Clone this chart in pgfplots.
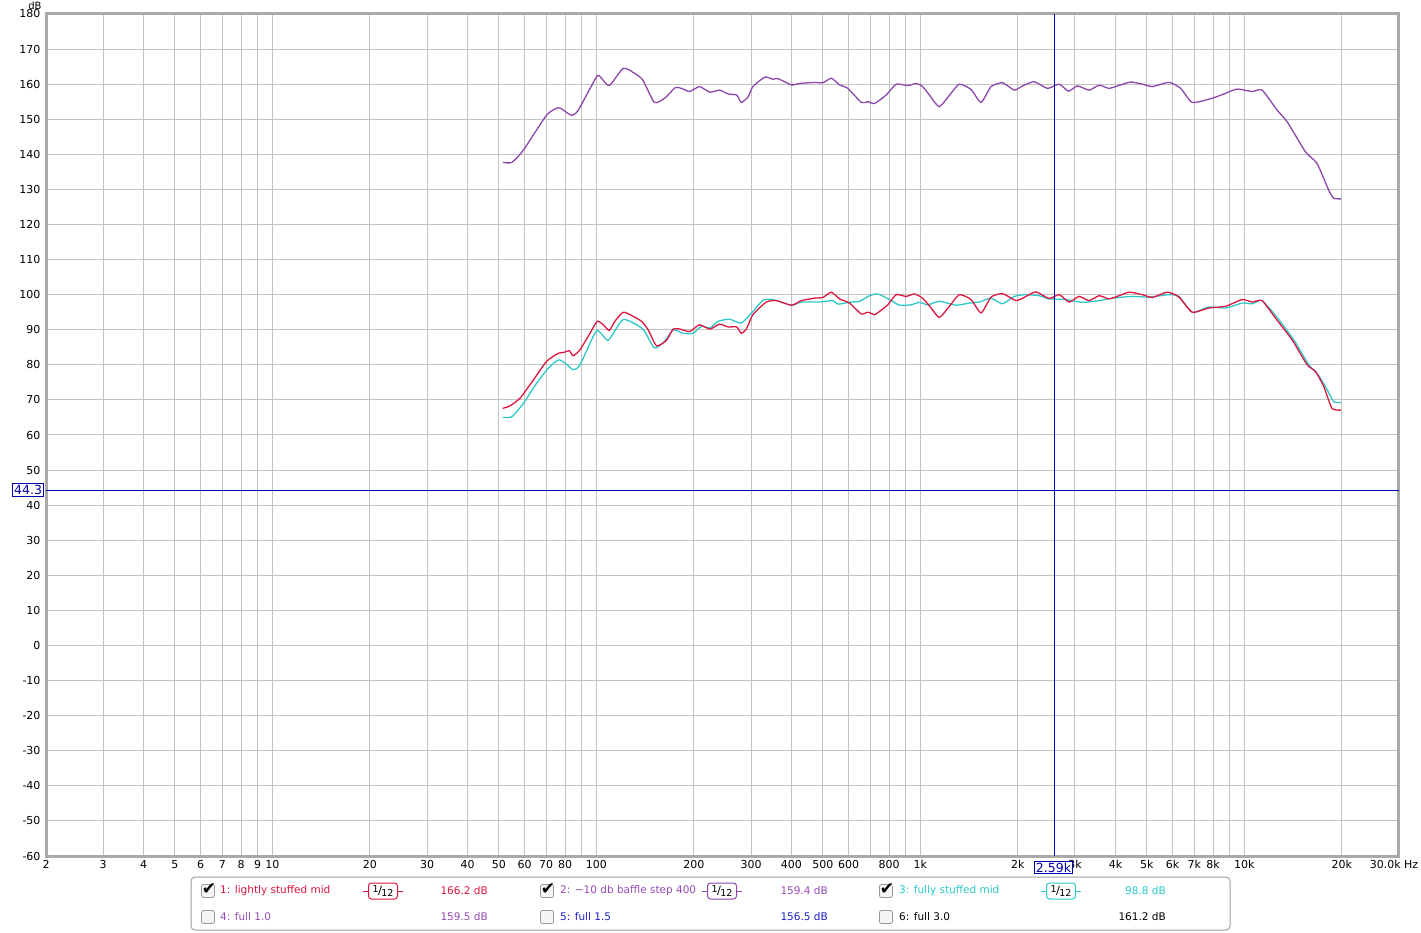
\documentclass[border=0pt]{standalone}
\usepackage{fontspec}
\setmainfont{DejaVu Sans}
\usepackage{pgfplots}
\pgfplotsset{compat=1.18}
\definecolor{cred}{RGB}{220,22,62}
\definecolor{cpurple}{RGB}{140,70,172}
\definecolor{ccyan}{RGB}{45,200,200}
\definecolor{cursorblue}{RGB}{0,0,175}
\definecolor{lblue}{RGB}{30,30,200}
\definecolor{lpurple}{RGB}{150,75,182}
\definecolor{gridgray}{RGB}{195,195,195}
\definecolor{framegray}{RGB}{170,170,170}
\newcommand{\badge}{\raisebox{2pt}{\fontsize{9.5}{9.5}\selectfont 1}\kern-0.5pt{\fontsize{11.5}{11.5}\selectfont/}\kern-0.5pt\raisebox{-2pt}{\fontsize{9.5}{9.5}\selectfont 12}}
\begin{document}
\begin{tikzpicture}
\path[use as bounding box] (-46pt,-76pt) rectangle (1375pt,856pt);
\begin{axis}[
  at={(0pt,0pt)}, anchor=south west,
  width=1353pt, height=842pt, scale only axis,
  xmode=log, xmin=2, xmax=30000, ymin=-60, ymax=180,
  clip=false,
  ytick={-60,-50,...,180},
  xtick={2,3,4,5,6,7,8,9,10,20,30,40,50,60,70,80,90,100,200,300,400,500,600,700,800,900,1000,2000,3000,4000,5000,6000,7000,8000,9000,10000,20000,30000},
  xticklabels={2,3,4,5,6,7,8,9,10,20,30,40,50,60,70,80,,100,200,300,400,500,600,,800,,1k,2k,3k,4k,5k,6k,7k,8k,,10k,20k,\kern-10pt 30.0k Hz},
  grid=major,
  major grid style={draw=gridgray, line width=1pt},
  major tick length=0pt,
  axis line style={draw=framegray, line width=3pt},
  /pgf/number format/assume math mode=true,
  ticklabel style={font=\fontsize{11}{13}\selectfont},
  yticklabel style={xshift=-2pt},
  xticklabel style={yshift=-1pt},
  every axis plot/.append style={line width=1.3pt, smooth, tension=0.35},
]
% purple: -10 db baffle step 400
\addplot[cpurple] coordinates {
(51.4,137.7)(54.8,137.7)(59.5,141.2)(70.2,151.2)(76.3,153.3)(79.0,152.6)(83.9,151.1)(87.9,152.6)
(100.1,162.1)(103,162.0)(109.5,159.6)(121,164.5)(131,163.1)(139,161.2)(151,154.8)(163,156.1)
(175,159.0)(183,158.8)(194,157.9)(208,159.3)(224,157.7)(240,158.3)(255,157.2)(271,156.9)
(280,154.8)(294,156.4)(304,159.3)(331,162.0)(351,161.4)(363,161.6)(400,159.8)(424,160.2)
(471,160.5)(500,160.4)(531,161.7)(563,159.8)(597,158.8)(657,154.8)(688,155.0)(722,154.5)
(784,156.9)(842,160.0)(914,159.6)(970,160.2)(1016,159.3)(1066,156.9)(1144,153.6)(1243,157.4)
(1319,160.0)(1433,158.5)(1539,154.8)(1652,159.3)(1793,160.4)(1949,158.3)(2067,159.5)(2245,160.7)
(2468,158.8)(2682,160.0)(2864,158.0)(3052,159.5)(3317,158.3)(3561,159.7)(3823,158.8)(4155,159.8)
(4461,160.6)(4843,160.0)(5199,159.3)(5852,160.5)(6360,158.8)(6904,154.8)(7958,156.0)(8752,157.4)
(9502,158.6)(10570,157.9)(11340,158.3)(12620,152.6)(13550,149.3)(15440,140.7)(16760,137.4)
(18210,129.8)(18870,127.5)(19870,127.3)
};
% cyan: fully stuffed mid
\addplot[ccyan] coordinates {
(51.4,65.0)(54.8,65.2)(59.5,69.0)(65.4,74.8)(71.0,79.0)(76.3,81.4)(80.0,80.5)(84.8,78.6)(89.0,80.0)
(100.1,89.7)(108.7,87.0)(121,92.9)(139,90.2)(151,84.8)(163,86.9)(172.5,90.0)(185.1,89.0)(198.7,89.0)
(211,91.0)(224,90.5)(237.3,92.4)(257.8,93.0)(280,91.9)(304,95.2)(326.6,98.4)(351,98.6)(400,97.0)
(428.9,97.9)(488.4,97.9)(536.9,98.3)(556.3,97.3)(611.5,97.9)(648.6,98.1)(696.3,99.7)(738.6,100.2)
(802.7,98.6)(861.6,97.0)(936.1,97.1)(993,97.8)(1053,97.1)(1144,98.1)(1288,97.0)(1416,97.6)
(1520,97.9)(1652,99.0)(1793,97.4)(1949,99.5)(2117,100.0)(2326,99.7)(2497,98.8)(2812,98.6)
(3164,97.8)(3561,98.3)(3913,99.0)(4511,99.5)(5079,99.3)(5852,100.0)(6284,99.5)(6904,95.0)
(7773,96.5)(8752,96.2)(9845,97.6)(10570,97.4)(11340,98.3)(12770,92.9)(14210,87.1)(15810,80.0)
(16760,77.6)(17790,73.8)(18870,69.5)(19870,69.3)
};
% red: lightly stuffed mid
\addplot[cred] coordinates {
(51.4,67.6)(54.1,68.3)(58.1,70.5)(63.9,75.7)(70.2,81.0)(76.3,83.3)(79.0,83.5)(82.5,84.0)(84.8,82.6)
(89.0,84.3)(95.5,89.0)(100.6,92.4)(105,91.4)(109.5,89.8)(114,92.4)(121,95.0)(129.9,93.8)(137.8,92.4)
(144.4,90.0)(153.3,85.4)(164.6,87.0)(172.5,90.2)(180.8,90.2)(194,89.5)(208,91.4)(224,90.2)(240,91.6)
(255,90.8)(271,90.8)(280,89.0)(290.3,90.2)(304,94.3)(334.6,97.9)(359.3,98.3)(400,97.0)(428.9,98.3)
(471,99.0)(500,99.2)(531,100.7)(563,98.8)(604.2,97.6)(657,94.5)(688,95.0)(722,94.3)(747.5,95.2)
(793,97.1)(842,100.0)(903.6,99.5)(958.3,100.2)(1016,99.0)(1079,96.2)(1144,93.5)(1229,96.7)
(1319,100.0)(1433,98.6)(1539,94.8)(1652,99.3)(1793,100.3)(1972,98.3)(2117,99.5)(2273,100.8)
(2497,98.9)(2682,100.0)(2879,97.9)(3090,99.5)(3317,98.3)(3561,99.7)(3823,98.8)(4104,99.7)
(4407,100.7)(4843,100.0)(5199,99.2)(5782,100.7)(6284,99.3)(6904,95.0)(7773,96.2)(8752,96.7)
(9845,98.6)(10570,97.9)(11340,98.3)(12480,93.3)(14040,87.1)(15620,80.0)(16580,78.1)(17580,73.8)
(18640,67.6)(19870,67.1)
};
% cursors
\draw[cursorblue, line width=1pt] (axis cs:2590,-60) -- (axis cs:2590,180);
\draw[cursorblue, line width=1pt] (axis cs:2,44.3) -- (axis cs:30000,44.3);
\end{axis}
% cursor labels
\node[draw=cursorblue, fill=white, text=cursorblue, line width=1pt, inner sep=1.5pt, anchor=east, font=\fontsize{12.5}{14}\selectfont] at (-2pt,365.9pt) {44.3};
\node[draw=cursorblue, fill=white, text=cursorblue, line width=1pt, inner sep=1.5pt, font=\fontsize{12.5}{14}\selectfont] at (1007.5pt,-11.5pt) {2.59k};
% dB unit
\node[font=\fontsize{10}{12}\selectfont] at (-11pt,850pt) {dB};
% legend box
\draw[draw=gray!75, line width=1pt, rounded corners=4pt, fill=white] (145pt,-21pt) rectangle (1184pt,-74pt);
\tikzset{chk/.style={draw=gray!80, fill=gray!8, rounded corners=2pt, line width=0.8pt, minimum size=13pt, inner sep=0pt},
  ltxt/.style={anchor=west, font=\fontsize{10.5}{12}\selectfont, inner sep=0pt},
  vtxt/.style={anchor=east, font=\fontsize{10.5}{12}\selectfont, inner sep=0pt},
  bdg/.style={draw=#1, rounded corners=3pt, line width=1pt, fill=white, minimum width=29pt, minimum height=16pt, inner sep=0pt, font=\fontsize{10}{12}\selectfont}}
\foreach \cx in {162,501,840} {
  \node[chk] at (\cx pt,-35pt) {};
  \node[chk] at (\cx pt,-61pt) {};
  \node[font=\fontsize{17}{17}\selectfont, inner sep=0pt] at (\cx pt+1pt,-33pt) {✔};
}
\node[ltxt, text=cred] at (174pt,-35pt) {1: lightly stuffed mid};
\node[ltxt, text=lpurple] at (514pt,-35pt) {2: −10 db baffle step 400};
\node[ltxt, text=ccyan] at (853pt,-35pt) {3: fully stuffed mid};
\node[ltxt, text=lpurple] at (174pt,-61pt) {4: full 1.0};
\node[ltxt, text=lblue] at (514pt,-61pt) {5: full 1.5};
\node[ltxt, text=black] at (853pt,-61pt) {6: full 3.0};
\node[vtxt, text=cred] at (442pt,-35pt) {166.2 dB};
\node[vtxt, text=lpurple] at (782pt,-35pt) {159.4 dB};
\node[vtxt, text=ccyan] at (1120pt,-35pt) {98.8 dB};
\node[vtxt, text=lpurple] at (442pt,-61pt) {159.5 dB};
\node[vtxt, text=lblue] at (782pt,-61pt) {156.5 dB};
\node[vtxt, text=black] at (1120pt,-61pt) {161.2 dB};
% smoothing badges
\draw[cred, line width=1pt] (317pt,-35pt) -- (357pt,-35pt);
\node[bdg=cred] at (337pt,-35pt) {\badge};
\draw[cpurple, line width=1pt] (656pt,-35pt) -- (696pt,-35pt);
\node[bdg=cpurple] at (676pt,-35pt) {\badge};
\draw[ccyan, line width=1pt] (995pt,-35pt) -- (1035pt,-35pt);
\node[bdg=ccyan] at (1015pt,-35pt) {\badge};
\end{tikzpicture}
\end{document}
